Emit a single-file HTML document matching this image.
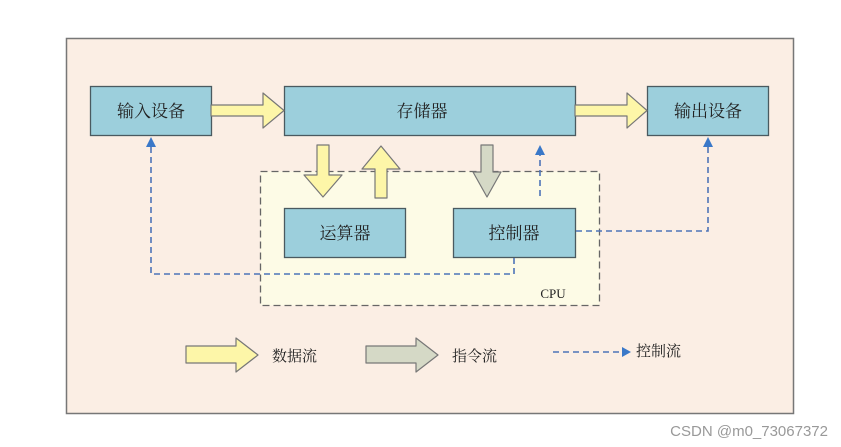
<!DOCTYPE html>
<html><head><meta charset="utf-8"><style>
body{margin:0;background:#fff;width:841px;height:447px;overflow:hidden;font-family:"Liberation Serif","Noto Serif CJK SC",serif}
</style></head><body>
<svg width="841" height="447" xmlns="http://www.w3.org/2000/svg" style="position:absolute;left:0;top:0">
<rect x="66.5" y="38.5" width="727" height="375" fill="#fbeee4" stroke="#777" stroke-width="1.5"/>
<rect x="260.5" y="171.5" width="339" height="134" fill="#fdfbe6" stroke="#666" stroke-width="1.3" stroke-dasharray="7,4"/>
<g fill="#9ccfdc" stroke="#4a5a60" stroke-width="1.3">
<rect x="90.5" y="86.5" width="121" height="49"/>
<rect x="284.5" y="86.5" width="291" height="49"/>
<rect x="647.5" y="86.5" width="121" height="49"/>
<rect x="284.5" y="208.5" width="121" height="49"/>
<rect x="453.5" y="208.5" width="122" height="49"/>
</g>
<g font-family="Liberation Serif, Noto Serif CJK SC, serif" font-size="17" fill="#222" text-anchor="middle">
<text x="151" y="117">输入设备</text>
<text x="422" y="117">存储器</text>
<text x="708" y="117">输出设备</text>
<text x="345" y="239">运算器</text>
<text x="514" y="239">控制器</text>
<text x="553" y="298" font-size="13">CPU</text>
</g>
<g fill="#fdf6a8" stroke="#777" stroke-width="1.2" stroke-linejoin="round">
<path d="M211 105 H263 V93 L284 110.5 L263 128 V116 H211 Z"/>
<path d="M575 105 H627 V93 L647 110.5 L627 128 V116 H575 Z"/>
<path d="M317 145 H329 V175 H342 L323 197 L304 175 H317 Z"/>
<path d="M375 198 H387 V169 H400 L381 146 L362 169 H375 Z"/>
<path d="M186 346 H236 V338 L258 355 L236 372 V363 H186 Z"/>
</g>
<g fill="#d5d9c6" stroke="#777" stroke-width="1.2" stroke-linejoin="round">
<path d="M481 145 H493 V172 H501 L487 197 L473 172 H481 Z"/>
<path d="M366 346 H416 V338 L438 355 L416 372 V363 H366 Z"/>
</g>
<g fill="none" stroke="#4d74b8" stroke-width="1.6" stroke-dasharray="6,4">
<path d="M514 258 V274 H151 V146"/>
<path d="M540 196 V148"/>
<path d="M576 231 H708 V146"/>
<path d="M553 352 H624"/>
</g>
<g fill="#3a78c8">
<path d="M151 137 L146 147 H156 Z"/>
<path d="M540 145 L535 155 H545 Z"/>
<path d="M708 137 L703 147 H713 Z"/>
<path d="M631 352 L622 347 V357 Z"/>
</g>
<g font-size="15" fill="#222">
<text x="272" y="361">数据流</text>
<text x="452" y="361">指令流</text>
<text x="636" y="356">控制流</text>
</g>
<text x="828" y="436" text-anchor="end" font-family="Liberation Sans, sans-serif" font-size="15" fill="#999">CSDN @m0_73067372</text>
</svg>
</body></html>
